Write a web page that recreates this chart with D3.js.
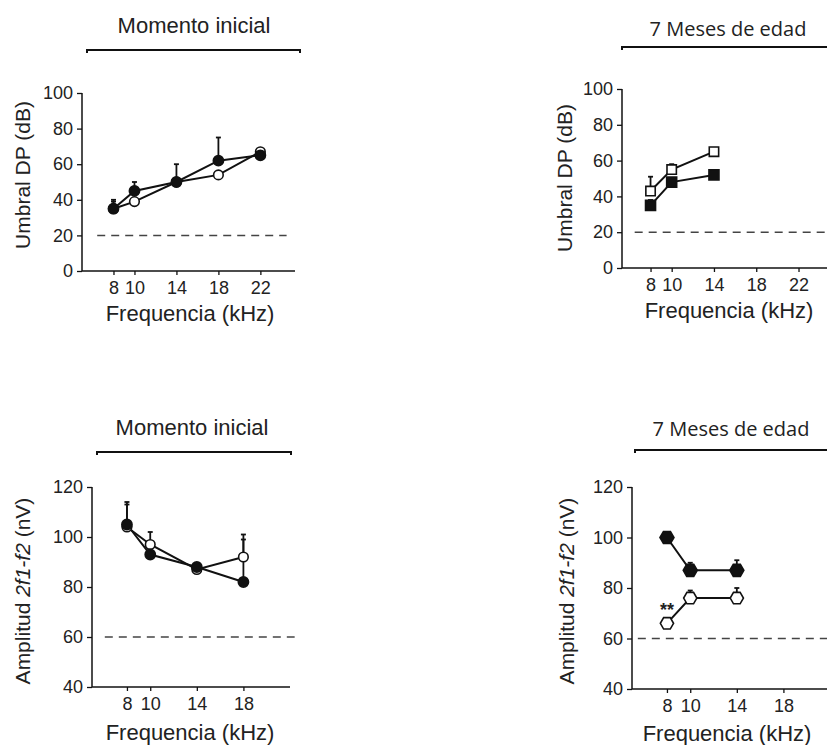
<!DOCTYPE html>
<html>
<head>
<meta charset="utf-8">
<script src="https://cdn.jsdelivr.net/npm/d3@7"></script>
<style>
  html, body { margin: 0; padding: 0; background: #fff; }
  svg { display: block; }
  text { fill: #222; }
</style>
</head>
<body>
<svg id="fig" width="827" height="745"></svg>
<script>
// ---- data ----
const freqThresholdInitial = [8, 10, 14, 18, 22];
const thresholdInitialFilled = [35, 45, 50, 62, 65];
const thresholdInitialFilledErr = [5, 5, 10, 13, 0];
const thresholdInitialOpen = [35, 39, 50, 54, 67];
const thresholdInitialOpenErr = [4, 0, 0, 0, 0];

const freqThreshold7m = [8, 10, 14];
const threshold7mOpen = [43, 55, 65];
const threshold7mOpenErr = [8, 3, 1];
const threshold7mFilled = [35, 48, 52];
const threshold7mFilledErr = [3, 1, 2];

const freqAmplitudeInitial = [8, 10, 14, 18];
const amplitudeInitialFilled = [105, 93, 88, 82];
const amplitudeInitialFilledErr = [9, 0, 0, 17];
const amplitudeInitialOpen = [104, 97, 87, 92];
const amplitudeInitialOpenErr = [9, 5, 0, 9];

const freqAmplitude7m = [8, 10, 14];
const amplitude7mFilled = [100, 87, 87];
const amplitude7mFilledErr = [0, 3, 4];
const amplitude7mOpen = [66, 76, 76];
const amplitude7mOpenErr = [0, 3, 4];

const thresholdTicks = [0, 20, 40, 60, 80, 100];
const amplitudeTicks = [40, 60, 80, 100, 120];
const freqTicksThreshold = [8, 10, 14, 18, 22];
const freqTicksAmplitude = [8, 10, 14, 18];

const titleInitial = "Momento inicial";
const title7m = "7 Meses de edad";
const xLabel = "Frequencia (kHz)";

const svg = d3.select("#fig");
const INK = "#111";
const SANS = "'Liberation Sans', Arial, sans-serif";

function hexPath(r) {
  const pts = d3.range(6).map(i => {
    const a = Math.PI / 3 * i;
    return [r * Math.cos(a), r * Math.sin(a)];
  });
  return "M" + pts.map(p => p.join(",")).join("L") + "Z";
}

function drawPanel(cfg) {
  const g = svg.append("g");
  const x = d3.scaleLinear().domain(cfg.xDomain).range(cfg.xRange);
  const y = d3.scaleLinear().domain(cfg.yDomain).range(cfg.yRange);
  const x0 = cfg.xRange[0], y0 = cfg.yRange[0];

  // y axis
  const ya = g.append("g").attr("transform", `translate(${x0},0)`)
    .call(d3.axisLeft(y).tickValues(cfg.yTicks).tickSize(5).tickPadding(4).tickSizeOuter(0));
  ya.select(".domain").attr("stroke", INK).attr("stroke-width", 1.5)
    .attr("d", `M0,${y0}V${y(cfg.yDomain[1])}`);
  ya.selectAll(".tick line").attr("stroke", INK).attr("stroke-width", 1.3);
  ya.selectAll(".tick text").attr("font-family", SANS).attr("font-size", 18).attr("fill", "#222");

  // x axis
  const xa = g.append("g").attr("transform", `translate(0,${y0})`)
    .call(d3.axisBottom(x).tickValues(cfg.xTicks).tickSize(4).tickPadding(6).tickSizeOuter(0));
  xa.select(".domain").attr("stroke", INK).attr("stroke-width", 1.5)
    .attr("d", `M${x0},0H${cfg.xAxisEnd}`);
  xa.selectAll(".tick line").attr("stroke", INK).attr("stroke-width", 1.3);
  xa.selectAll(".tick text").attr("font-family", SANS).attr("font-size", 18).attr("fill", "#222");

  // reference level
  g.append("line")
    .attr("x1", x(cfg.refX[0])).attr("x2", x(cfg.refX[1]))
    .attr("y1", y(cfg.refY)).attr("y2", y(cfg.refY))
    .attr("stroke", "#444").attr("stroke-width", 1.5).attr("stroke-dasharray", "8,6");

  // axis labels
  g.append("text")
    .attr("x", cfg.xLabelCenter)
    .attr("y", cfg.xLabelY).attr("text-anchor", "middle")
    .attr("font-family", SANS).attr("font-size", 22).text(xLabel);

  const yl = g.append("text")
    .attr("transform", `translate(${cfg.yLabelX},${cfg.yLabelY}) rotate(-90)`)
    .attr("text-anchor", "middle").attr("font-family", SANS).attr("font-size", cfg.yLabelSize);
  cfg.yLabel.forEach(part => {
    yl.append("tspan").attr("font-style", part.italic ? "italic" : "normal").text(part.t);
  });

  // title with bracket
  g.append("text").attr("x", cfg.titleX).attr("y", cfg.titleY).attr("text-anchor", "middle")
    .attr("font-family", cfg.titleFont).attr("font-size", cfg.titleSize).text(cfg.title);
  g.append("path")
    .attr("d", `M${cfg.bracket[0]},${cfg.bracketY + 3}V${cfg.bracketY}H${cfg.bracket[1]}V${cfg.bracketY + 3}`)
    .attr("fill", "none").attr("stroke", INK).attr("stroke-width", 2);

  // series: lines, error bars, markers (open first, filled on top)
  cfg.series.forEach(s => {
    const pts = cfg.freq.map((f, i) => ({ f, v: s.values[i], e: s.err[i] }));
    g.append("path").datum(pts)
      .attr("d", d3.line().x(d => x(d.f)).y(d => y(d.v)))
      .attr("fill", "none").attr("stroke", INK).attr("stroke-width", 2);
    const eb = g.append("g").selectAll("g").data(pts.filter(d => d.e > 0)).join("g");
    eb.append("line")
      .attr("x1", d => x(d.f)).attr("x2", d => x(d.f))
      .attr("y1", d => y(d.v)).attr("y2", d => y(d.v + d.e))
      .attr("stroke", INK).attr("stroke-width", 1.8);
    eb.append("line")
      .attr("x1", d => x(d.f) - 2.5).attr("x2", d => x(d.f) + 2.5)
      .attr("y1", d => y(d.v + d.e)).attr("y2", d => y(d.v + d.e))
      .attr("stroke", INK).attr("stroke-width", 1.8);
  });
  cfg.series.forEach(s => {
    const pts = cfg.freq.map((f, i) => ({ f, v: s.values[i] }));
    const fill = s.filled ? INK : "#fff";
    const m = g.append("g").selectAll("path").data(pts).join("path")
      .attr("transform", d => `translate(${x(d.f)},${y(d.v)})`)
      .attr("fill", fill).attr("stroke", INK).attr("stroke-width", 1.6);
    if (s.shape === "circle") m.attr("d", d3.symbol(d3.symbolCircle, s.filled ? 82 : 72)());
    else if (s.shape === "square") m.attr("d", d3.symbol(d3.symbolSquare, s.filled ? 100 : 88)());
    else m.attr("d", hexPath(s.filled ? 7 : 6.6));
  });
  return { g, x, y };
}

// top-left: thresholds, initial time point
drawPanel({
  xDomain: [5, 25.3], xRange: [82, 295], xAxisEnd: 295,
  yDomain: [0, 100], yRange: [271, 93],
  xTicks: freqTicksThreshold, yTicks: thresholdTicks,
  refY: 20, refX: [6.45, 24.5],
  xLabelCenter: 190, xLabelY: 321,
  yLabelX: 30, yLabelY: 175, yLabelSize: 21,
  yLabel: [{ t: "Umbral DP (dB)" }],
  title: titleInitial, titleX: 194, titleY: 33, titleFont: SANS, titleSize: 22,
  bracket: [87, 300], bracketY: 50,
  freq: freqThresholdInitial,
  series: [
    { values: thresholdInitialOpen, err: thresholdInitialOpenErr, filled: false, shape: "circle" },
    { values: thresholdInitialFilled, err: thresholdInitialFilledErr, filled: true, shape: "circle" }
  ]
});

// top-right: thresholds at 7 months
drawPanel({
  xDomain: [5.3, 25.3], xRange: [622, 833.4], xAxisEnd: 830,
  yDomain: [0, 100], yRange: [268, 89],
  xTicks: freqTicksThreshold, yTicks: thresholdTicks,
  refY: 20, refX: [6.5, 25.3],
  xLabelCenter: 729, xLabelY: 318,
  yLabelX: 572, yLabelY: 178, yLabelSize: 21,
  yLabel: [{ t: "Umbral DP (dB)" }],
  title: title7m, titleX: 728, titleY: 36, titleFont: "'Open Sans', sans-serif", titleSize: 20,
  bracket: [622, 830], bracketY: 47,
  freq: freqThreshold7m,
  series: [
    { values: threshold7mOpen, err: threshold7mOpenErr, filled: false, shape: "square" },
    { values: threshold7mFilled, err: threshold7mFilledErr, filled: true, shape: "square" }
  ]
});

// bottom-left: 2f1-f2 amplitude, initial time point
drawPanel({
  xDomain: [5, 22], xRange: [92, 290], xAxisEnd: 290,
  yDomain: [40, 120], yRange: [687, 487],
  xTicks: freqTicksAmplitude, yTicks: amplitudeTicks,
  refY: 60, refX: [6.1, 22.4],
  xLabelCenter: 190, xLabelY: 740,
  yLabelX: 30, yLabelY: 591, yLabelSize: 21,
  yLabel: [{ t: "Amplitud " }, { t: "2f1-f2", italic: true }, { t: " (nV)" }],
  title: titleInitial, titleX: 192, titleY: 435, titleFont: SANS, titleSize: 22,
  bracket: [97, 291], bracketY: 452,
  freq: freqAmplitudeInitial,
  series: [
    { values: amplitudeInitialOpen, err: amplitudeInitialOpenErr, filled: false, shape: "circle" },
    { values: amplitudeInitialFilled, err: amplitudeInitialFilledErr, filled: true, shape: "circle" }
  ]
});

// bottom-right: 2f1-f2 amplitude at 7 months
const br = drawPanel({
  xDomain: [5, 22], xRange: [632, 830], xAxisEnd: 830,
  yDomain: [40, 120], yRange: [689, 487],
  xTicks: freqTicksAmplitude, yTicks: amplitudeTicks,
  refY: 60, refX: [5.5, 22],
  xLabelCenter: 727, xLabelY: 741,
  yLabelX: 574, yLabelY: 591, yLabelSize: 21,
  yLabel: [{ t: "Amplitud " }, { t: "2f1-f2", italic: true }, { t: " (nV)" }],
  title: title7m, titleX: 731, titleY: 436, titleFont: "'Open Sans', sans-serif", titleSize: 20,
  bracket: [635, 830], bracketY: 450,
  freq: freqAmplitude7m,
  series: [
    { values: amplitude7mOpen, err: amplitude7mOpenErr, filled: false, shape: "hex" },
    { values: amplitude7mFilled, err: amplitude7mFilledErr, filled: true, shape: "hex" }
  ]
});

// significance mark on the 8 kHz open point
br.g.append("text")
  .attr("x", br.x(freqAmplitude7m[0])).attr("y", br.y(amplitude7mOpen[0]) - 7)
  .attr("text-anchor", "middle").attr("font-family", SANS).attr("font-weight", "bold")
  .attr("font-size", 18).text("**");
</script>
</body>
</html>
